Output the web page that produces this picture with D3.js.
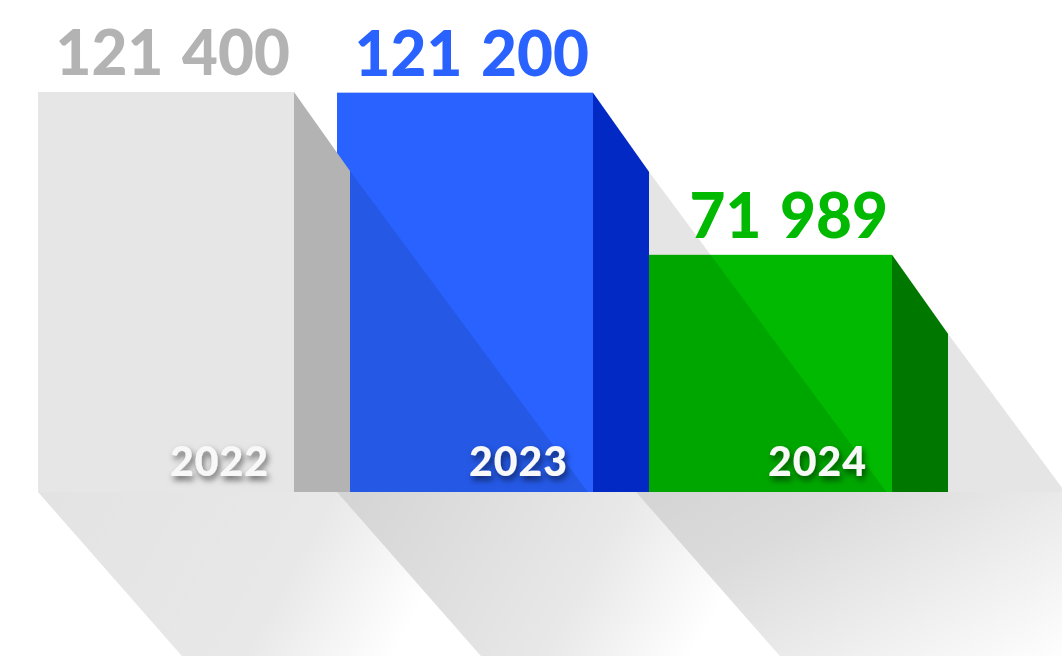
<!DOCTYPE html>
<html>
<head>
<meta charset="utf-8">
<script src="https://d3js.org/d3.v7.min.js"></script>
<style>
  body { margin: 0; background: #fff; }
  svg { display: block; }
  .value { font-family: Lato, sans-serif; font-weight: 900; font-size: 62px; word-spacing: 4px; }
  .year { font-family: Lato, sans-serif; font-weight: 900; font-size: 41px; letter-spacing: 1px; fill: #f8f8f8; }
</style>
</head>
<body>
<div id="chart"></div>
<script>
var years = ["2022", "2023", "2024"];
var values = [121400, 121200, 71989];
var valueLabels = ["121 400", "121 200", "71 989"];

var frontColors = ["#e6e6e6", "#2962ff", "#00b900"];
var sideColors = ["#b3b3b3", "#0229c3", "#007800"];
var labelColors = ["#b3b3b3", "#2962ff", "#00b900"];
var groundStart = [0.11, 0.17, 0.17];

var width = 1062, height = 656;
var baseY = 492;
var depthX = 56, depthY = 79;   // side face slant
var castSlope = 1.35;           // cast shadow on the next bar
var groundSlope = 1.14;         // long shadow on the floor

var svg = d3.select("#chart").append("svg")
  .attr("width", width)
  .attr("height", height);

var x = d3.scaleBand()
  .domain(years)
  .range([38, 892])
  .paddingInner(43 / 299)
  .paddingOuter(0);

var y = d3.scaleLinear()
  .domain([0, d3.max(values)])
  .range([baseY, 92]);

var data = years.map((yr, i) => ({ year: yr, value: values[i], label: valueLabels[i], i: i }));

var defs = svg.append("defs");

defs.append("filter")
  .attr("id", "txtShadow")
  .attr("x", "-20%").attr("y", "-30%")
  .attr("width", "140%").attr("height", "170%")
  .append("feDropShadow")
  .attr("dx", 2).attr("dy", 4)
  .attr("stdDeviation", 3)
  .attr("flood-color", "#000")
  .attr("flood-opacity", 0.55);

// floor shadows; the last one runs out to the right edge
data.forEach(d => {
  var left = x(d.year);
  var isLast = d.i === data.length - 1;
  var right = isLast ? width + 200 : left + x.step();
  var g = defs.append("linearGradient")
    .attr("id", "ground" + d.i)
    .attr("gradientUnits", "userSpaceOnUse")
    .attr("x1", left).attr("y1", baseY)
    .attr("x2", left + (isLast ? 175 : 380)).attr("y2", baseY + (isLast ? 315 : 210));
  if (isLast) {
    g.append("stop").attr("offset", 0).attr("stop-color", "#000").attr("stop-opacity", 0.17);
    g.append("stop").attr("offset", 0.3).attr("stop-color", "#000").attr("stop-opacity", 0.14);
    g.append("stop").attr("offset", 1).attr("stop-color", "#000").attr("stop-opacity", 0);
  } else {
    g.append("stop").attr("offset", 0).attr("stop-color", "#000").attr("stop-opacity", groundStart[d.i]);
    g.append("stop").attr("offset", 0.6).attr("stop-color", "#000").attr("stop-opacity", 0.09);
    g.append("stop").attr("offset", 0.9).attr("stop-color", "#000").attr("stop-opacity", 0);
  }
  d.groundPts = [[left, baseY], [right, baseY],
    [right + (isLast ? 0 : 250 / groundSlope), baseY + 250], [left + 250 / groundSlope, baseY + 250]];
});

svg.append("g").selectAll("path")
  .data(data)
  .join("path")
  .attr("d", d => d3.line()(d.groundPts) + "Z")
  .attr("fill", d => "url(#ground" + d.i + ")");

// front faces
svg.append("g").selectAll("rect")
  .data(data)
  .join("rect")
  .attr("x", d => x(d.year))
  .attr("y", d => y(d.value))
  .attr("width", x.bandwidth())
  .attr("height", d => baseY - y(d.value))
  .attr("fill", d => frontColors[d.i]);

// shadow each bar casts to its right
svg.append("g").selectAll("path")
  .data(data)
  .join("path")
  .attr("d", d => {
    var sx = x(d.year) + x.bandwidth() + depthX;
    var sy = y(d.value) + depthY;
    return d3.line()([[sx, sy], [sx + (baseY - sy) / castSlope, baseY], [sx, baseY]]) + "Z";
  })
  .attr("fill", "#000")
  .attr("fill-opacity", 0.1);

// side faces
svg.append("g").selectAll("path")
  .data(data)
  .join("path")
  .attr("d", d => {
    var r = x(d.year) + x.bandwidth();
    var t = y(d.value);
    return d3.line()([[r, t], [r + depthX, t + depthY], [r + depthX, baseY], [r, baseY]]) + "Z";
  })
  .attr("fill", d => sideColors[d.i]);

// value labels
svg.append("g").selectAll("text")
  .data(data)
  .join("text")
  .attr("class", "value")
  .attr("x", d => x(d.year) + x.bandwidth() - 4)
  .attr("y", d => y(d.value) - 17)
  .attr("text-anchor", "end")
  .attr("fill", d => labelColors[d.i])
  .text(d => d.label);

// year labels
svg.append("g").selectAll("text")
  .data(data)
  .join("text")
  .attr("class", "year")
  .attr("x", d => x(d.year) + x.bandwidth() - 25)
  .attr("y", baseY - 16)
  .attr("text-anchor", "end")
  .attr("filter", "url(#txtShadow)")
  .text(d => d.year);
</script>
</body>
</html>
